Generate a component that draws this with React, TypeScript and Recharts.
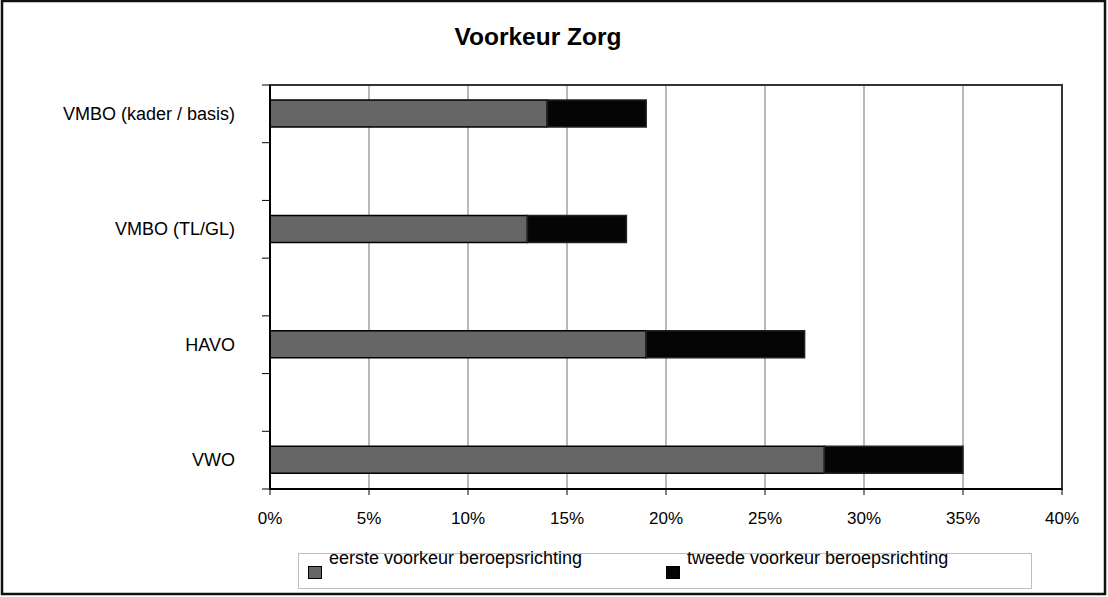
import React from "react";
import {
  BarChart,
  Bar,
  XAxis,
  YAxis,
  CartesianGrid,
  ReferenceArea,
} from "recharts";

const categories = ["VMBO (kader / basis)", "VMBO (TL/GL)", "HAVO", "VWO"];
const eerste = [14, 13, 19, 28];
const tweede = [5, 5, 8, 7];
const xTicks = [0, 5, 10, 15, 20, 25, 30, 35, 40];
const seriesNames = [
  "eerste voorkeur beroepsrichting",
  "tweede voorkeur beroepsrichting",
];
const seriesColors = ["#666666", "#050505"];

// the original sheet leaves an empty row between every category
const data: any[] = [];
categories.forEach((c, i) => {
  if (i > 0) data.push({ name: "", eerste: null, tweede: null });
  data.push({ name: c, eerste: eerste[i], tweede: tweede[i] });
});

const font = '"Liberation Sans", Arial, sans-serif';
const Y_TICK_SIZE = 6;
const Y_TICK_MARGIN = 29;

// excel puts the category tick marks between the bands, not at their centre
const CategoryTick = (props: any) => {
  const { x, y, payload, index, visibleTicksCount } = props;
  const axisX = x + Y_TICK_SIZE + Y_TICK_MARGIN;
  const half = payload.offset || 0;
  const last = index === visibleTicksCount - 1;
  return (
    <g>
      <line x1={axisX - 8} x2={axisX} y1={y - half} y2={y - half} stroke="#000" />
      {last && (
        <line x1={axisX - 8} x2={axisX} y1={y + half} y2={y + half} stroke="#000" />
      )}
      <text
        x={x}
        y={y}
        textAnchor="end"
        dominantBaseline="central"
        fill="#000"
        fontSize={18}
        fontFamily={font}
      >
        {payload.value}
      </text>
    </g>
  );
};

function LegendBox() {
  const items = [
    { left: 9, textLeft: 30 },
    { left: 367, textLeft: 388 },
  ];
  return (
    <div
      style={{
        position: "absolute",
        left: 298,
        top: 553,
        width: 734,
        height: 36,
        border: "1px solid #bdbdbd",
        boxSizing: "border-box",
        fontFamily: font,
        fontSize: 18,
        color: "#000",
      }}
    >
      {seriesNames.map((n, i) => (
        <React.Fragment key={n}>
          <div
            style={{
              position: "absolute",
              left: items[i].left,
              top: 12,
              width: 14,
              height: 13,
              background: seriesColors[i],
              border: "1.5px solid #000",
              boxSizing: "border-box",
            }}
          />
          <span
            style={{
              position: "absolute",
              left: items[i].textLeft,
              top: -6,
              whiteSpace: "nowrap",
              lineHeight: "20px",
            }}
          >
            {n}
          </span>
        </React.Fragment>
      ))}
    </div>
  );
}

export default function App() {
  return (
    <div
      style={{
        position: "absolute",
        left: 0,
        top: 0,
        width: 1108,
        height: 597,
        background: "#fff",
        fontFamily: font,
      }}
    >
      <div
        style={{
          position: "absolute",
          left: 0,
          width: 1076,
          top: 22,
          textAlign: "center",
          fontSize: 24.5,
          fontWeight: "bold",
          lineHeight: "30px",
          color: "#000",
        }}
      >
        Voorkeur Zorg
      </div>
      <BarChart
        width={1108}
        height={597}
        data={data}
        layout="vertical"
        margin={{ top: 85, right: 46, bottom: 78, left: 0 }}
        style={{ position: "absolute", left: 0, top: 0 }}
      >
        <CartesianGrid
          horizontal={false}
          stroke="#8a8a8a"
          strokeWidth={1.2}
        />
        <ReferenceArea
          x1={0}
          x2={40}
          fill="none"
          stroke="#333"
          strokeWidth={2}
        />
        <XAxis
          type="number"
          domain={[0, 40]}
          ticks={xTicks}
          interval={0}
          tickFormatter={(v) => `${v}%`}
          tick={{ fill: "#000", fontSize: 17, fontFamily: font }}
          tickSize={6}
          tickMargin={17}
          axisLine={{ stroke: "#000", strokeWidth: 2 }}
          tickLine={{ stroke: "#000" }}
        />
        <YAxis
          type="category"
          dataKey="name"
          width={270}
          interval={0}
          axisLine={{ stroke: "#000", strokeWidth: 2 }}
          tickLine={false}
          tickSize={Y_TICK_SIZE}
          tickMargin={Y_TICK_MARGIN}
          tick={<CategoryTick />}
        />
        <Bar
          dataKey="eerste"
          name={seriesNames[0]}
          stackId="a"
          fill={seriesColors[0]}
          stroke="#000"
          strokeWidth={1.5}
          barSize={27}
          isAnimationActive={false}
        />
        <Bar
          dataKey="tweede"
          name={seriesNames[1]}
          stackId="a"
          fill={seriesColors[1]}
          stroke="#222"
          strokeWidth={1.5}
          barSize={27}
          isAnimationActive={false}
        />
      </BarChart>
      <LegendBox />
      <svg
        width={1108}
        height={597}
        style={{ position: "absolute", left: 0, top: 0, pointerEvents: "none" }}
      >
        <rect x={2} y={1} width={1103} height={593} fill="none" stroke="#111" strokeWidth={2.5} />
      </svg>
    </div>
  );
}
